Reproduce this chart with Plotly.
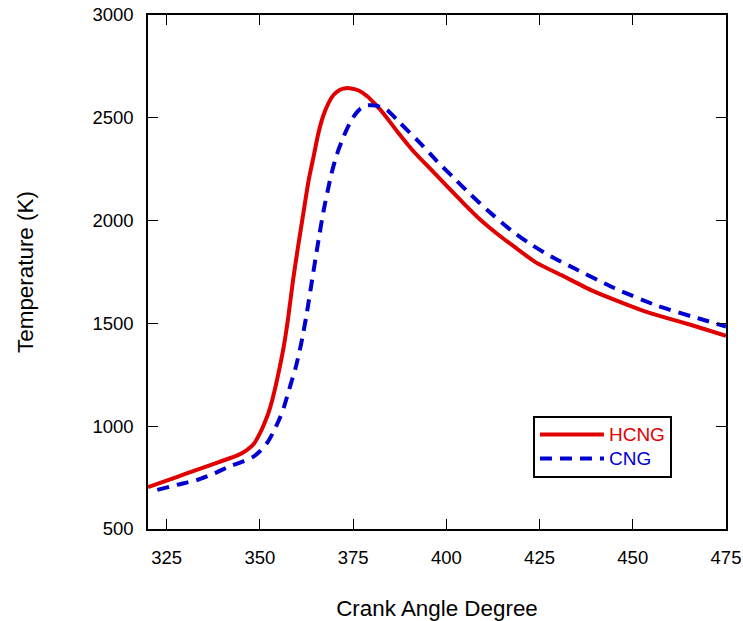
import plotly.graph_objects as go

# HCNG (red, solid)
hcng_x = [320, 325, 330, 335, 340, 344, 346.5, 348.3, 350, 351, 352.3, 353.5, 354.6, 356.4,
          357.5, 358.9, 360.3, 361.7, 363.1, 364.5, 365.7, 367, 368.5, 369.8, 371.5, 373,
          374.5, 376.5, 378.8, 381, 383.2, 387, 391.3, 395.8, 400.3, 404.7, 409.2, 413.7,
          418.2, 424, 430.8, 438.8, 445.5, 452.3, 459, 465.7, 470, 475]
hcng_t = [704, 735, 768, 800, 832, 858, 884, 912, 965, 1005, 1065, 1140, 1225, 1387,
          1515, 1711, 1880, 2040, 2198, 2320, 2426, 2510, 2575, 2612, 2636, 2644,
          2643, 2633, 2605, 2565, 2520, 2430, 2335, 2250, 2165, 2083, 2003, 1935,
          1873, 1797, 1735, 1662, 1612, 1565, 1527, 1492, 1468, 1440]

# CNG (blue, dashed)
cng_x = [322.5, 328, 333.1, 338, 342, 345, 348.3, 350, 352, 353.8, 355.5, 356.4, 358.2,
         359.6, 361, 362.5, 364, 365.5, 367, 368.8, 369.8, 371, 372.5, 374, 375.5, 377,
         378.8, 381, 384.1, 387.7, 392.6, 397.6, 402.1, 406.6, 411.5, 417.3, 422.2,
         428.1, 434.3, 445.1, 456.7, 468.4, 475]
cng_t = [690, 716, 738, 772, 806, 825, 852, 878, 920, 978, 1046, 1090, 1200,
         1285, 1395, 1540, 1711, 1880, 2040, 2197, 2270, 2340, 2410, 2470, 2515, 2545,
         2560, 2560, 2538, 2473, 2384, 2287, 2206, 2125, 2043, 1954, 1890,
         1825, 1768, 1671, 1585, 1520, 1485]

x_ticks = [325, 350, 375, 400, 425, 450, 475]
y_ticks = [500, 1000, 1500, 2000, 2500, 3000]

RED = "#e00000"
BLUE = "#0000d0"
FONT = "Liberation Sans, Arial, sans-serif"

fig = go.Figure()
fig.add_trace(go.Scatter(
    x=hcng_x, y=hcng_t, mode="lines",
    name=f'<span style="color:{RED};font-size:19px">HCNG</span>',
    line=dict(color=RED, width=4, shape="spline", smoothing=0.6),
))
fig.add_trace(go.Scatter(
    x=cng_x, y=cng_t, mode="lines",
    name=f'<span style="color:{BLUE};font-size:19px">CNG</span>',
    line=dict(color=BLUE, width=4, dash="12px,8px", shape="spline", smoothing=0.6),
))

axis_common = dict(
    showline=True, linecolor="black", linewidth=1.5, mirror="ticks",
    ticks="inside", ticklen=10, tickwidth=1, tickcolor="black",
    showgrid=False, zeroline=False,
    tickfont=dict(family=FONT, size=18.5, color="black"),
)

fig.update_xaxes(
    range=[320, 475], tickvals=x_ticks, ticktext=[str(v) for v in x_ticks],
    ticklabelstandoff=11,
    title=dict(text="Crank Angle Degree", font=dict(family=FONT, size=22.4, color="black"), standoff=34),
    **axis_common,
)
fig.update_yaxes(
    range=[500, 3000], tickvals=y_ticks, ticktext=[str(v) for v in y_ticks],
    ticklabelstandoff=9,
    title=dict(text="Temperature (K)", font=dict(family=FONT, size=22.4, color="black"), standoff=53),
    **axis_common,
)

fig.update_layout(
    width=743, height=621,
    margin=dict(l=148, r=17, t=15, b=92, autoexpand=False),
    paper_bgcolor="white", plot_bgcolor="white",
    font=dict(family=FONT, color="black"),
    legend=dict(
        x=0.666, y=0.2204, xanchor="left", yanchor="top",
        bordercolor="black", borderwidth=2, bgcolor="white",
        font=dict(family=FONT, size=16),
        itemwidth=64, tracegroupgap=0,
    ),
    showlegend=True,
)

fig.write_html("out.html")
